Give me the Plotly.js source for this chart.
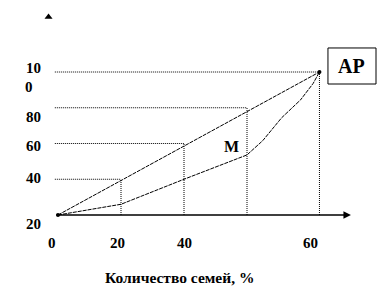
<!DOCTYPE html>
<html><head><meta charset="utf-8">
<script src="https://cdn.plot.ly/plotly-3.0.1.min.js"></script>
<style>html,body{margin:0;padding:0;background:#fff}#chart{width:392px;height:302px}</style>
</head><body><div id="chart"></div>
<script>
// Data (chart units)
const gridX = [20, 40, 60, 83];          // cumulative share of families
const gridY = [25, 50, 75, 100];         // matching points on the equality line
const equalityX = [0, 83];
const equalityY = [0, 100];
const lorenzX = [0, 20, 40, 60, 65, 71, 77, 81, 83];
const lorenzY = [0, 7.5, 25, 42, 52, 68, 80.5, 92, 100];
const xTickLabels = ["0", "20", "40", "60"];
const xTickPos = [-2, 19, 40, 80];
const yTickLabels = ["10", "0", "80", "60", "40", "20"];
const yTickPos = [102.8, 89.5, 68.5, 48.3, 25.9, -6.3];
const xTitle = "Количество семей, %";
const pointLabel = "M";
const boxLabel = "AP";

const F = {family: "Liberation Serif, Times New Roman, serif", color: "#000"};
const traces = [];
// dotted guide lines
gridX.forEach((gx, i) => {
  traces.push({x: [-1, gx], y: [gridY[i], gridY[i]], mode: "lines", line: {color: "#000", width: 1, dash: "1px,1px"}, hoverinfo: "skip"});
  traces.push({x: [gx, gx], y: [0, gridY[i]], mode: "lines", line: {color: "#000", width: 1, dash: "1px,1px"}, hoverinfo: "skip"});
});
traces.push({x: equalityX, y: equalityY, mode: "lines", line: {color: "#000", width: 1, dash: "4px,1px"}});
traces.push({x: lorenzX, y: lorenzY, mode: "lines", line: {color: "#000", width: 1, dash: "4px,1px"}});
traces.push({x: [0, 83], y: [0, 100], mode: "markers", marker: {color: "#000", size: 4}});
traces.push({x: [-3.0], y: [138.5], mode: "markers", marker: {color: "#000", size: 7, symbol: "triangle-up"}});

const ann = [];
xTickLabels.forEach((t, i) => ann.push({x: xTickPos[i], y: -19.5, xref: "x", yref: "y", text: t, showarrow: false, font: Object.assign({size: 15, weight: "bold"}, F)}));
yTickLabels.forEach((t, i) => ann.push({x: i === 1 ? -9.2 : -7.9, y: yTickPos[i], xref: "x", yref: "y", text: t, showarrow: false, font: Object.assign({size: 15, weight: "bold"}, F)}));
ann.push({x: 38.7, y: -44, xref: "x", yref: "y", text: xTitle, showarrow: false, font: Object.assign({size: 15.5, weight: "bold"}, F)});
ann.push({x: 55.2, y: 47.6, xref: "x", yref: "y", text: pointLabel, showarrow: false, font: Object.assign({size: 16, weight: "bold"}, F)});
ann.push({x: 93.3, y: 104.2, xref: "x", yref: "y", text: boxLabel, showarrow: false, font: Object.assign({size: 20, weight: "bold"}, F)});
// x axis line with arrow
ann.push({x: 93, y: 0, ax: -1, ay: 0, xref: "x", yref: "y", axref: "x", ayref: "y", text: "", showarrow: true, arrowhead: 2, arrowsize: 1, arrowwidth: 1.5, arrowcolor: "#000"});

const layout = {
  width: 392, height: 302,
  margin: {l: 0, r: 0, t: 0, b: 0},
  paper_bgcolor: "#fff", plot_bgcolor: "#fff",
  showlegend: false,
  xaxis: {range: [-18.41, 106.03], visible: false, fixedrange: true},
  yaxis: {range: [-60.84, 150.35], visible: false, fixedrange: true},
  shapes: [{type: "rect", xref: "x", yref: "y", x0: 85.7, x1: 100.95, y0: 91.6, y1: 116.8, line: {color: "#000", width: 1}}],
  annotations: ann
};
Plotly.newPlot("chart", traces, layout, {staticPlot: true, displayModeBar: false});
</script></body></html>
